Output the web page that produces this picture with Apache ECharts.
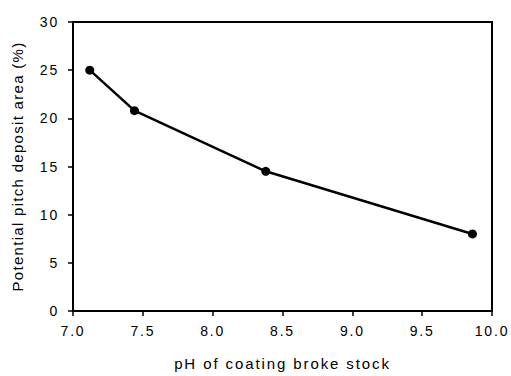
<!DOCTYPE html>
<html><head><meta charset="utf-8">
<script src="https://cdn.jsdelivr.net/npm/echarts@6/dist/echarts.min.js"></script>
<style>html,body{margin:0;padding:0;background:#fff}#c{width:511px;height:376px}</style>
</head><body><div id="c"></div>
<script>
const phValues = [7.12, 7.44, 8.38, 9.86];
const depositArea = [25.0, 20.8, 14.5, 8.0];
const xTicks = [7.0, 7.5, 8.0, 8.5, 9.0, 9.5, 10.0];
const yTicks = [0, 5, 10, 15, 20, 25, 30];
const xTitle = 'pH of coating broke stock';
const yTitle = 'Potential pitch deposit area (%)';

const chart = echarts.init(document.getElementById('c'), null, {renderer: 'svg'});
const font = 'Liberation Sans, Arial, sans-serif';
chart.setOption({
  animation: false,
  grid: {left: 73, top: 22, right: 19, bottom: 64, show: true, borderColor: '#000', borderWidth: 2, backgroundColor: '#fff'},
  xAxis: {
    type: 'value', min: xTicks[0], max: xTicks[xTicks.length - 1], interval: 0.5,
    name: xTitle, nameLocation: 'middle', nameGap: 45,
    nameTextStyle: {color: '#000', fontSize: 15, fontFamily: font},
    axisLine: {show: true, lineStyle: {color: '#000', width: 2}},
    axisTick: {show: true, inside: false, length: 5, lineStyle: {color: '#000', width: 1.5}},
    axisLabel: {color: '#000', fontSize: 14, fontFamily: font, margin: 13,
      formatter: v => v.toFixed(1)},
    splitLine: {show: false}
  },
  yAxis: {
    type: 'value', min: yTicks[0], max: yTicks[yTicks.length - 1], interval: 5,
    name: yTitle, nameLocation: 'middle', nameGap: 48,
    nameTextStyle: {color: '#000', fontSize: 15, fontFamily: font},
    axisLine: {show: true, lineStyle: {color: '#000', width: 2}},
    axisTick: {show: true, inside: false, length: 5, lineStyle: {color: '#000', width: 1.5}},
    axisLabel: {color: '#000', fontSize: 14, fontFamily: font, margin: 14},
    splitLine: {show: false}
  },
  series: [{
    type: 'line',
    data: phValues.map((x, i) => [x, depositArea[i]]),
    symbol: 'circle', symbolSize: 9,
    itemStyle: {color: '#000'},
    lineStyle: {color: '#000', width: 2.5}
  }]
});
// widen letter spacing to match the reference's spaced-out lettering
document.querySelectorAll('#c svg text').forEach(t => {
  const s = t.textContent;
  if (s === xTitle) t.style.letterSpacing = '1.9px';
  else if (s === yTitle) t.style.letterSpacing = '1.3px';
  else t.style.letterSpacing = '1.8px';
});
</script></body></html>
